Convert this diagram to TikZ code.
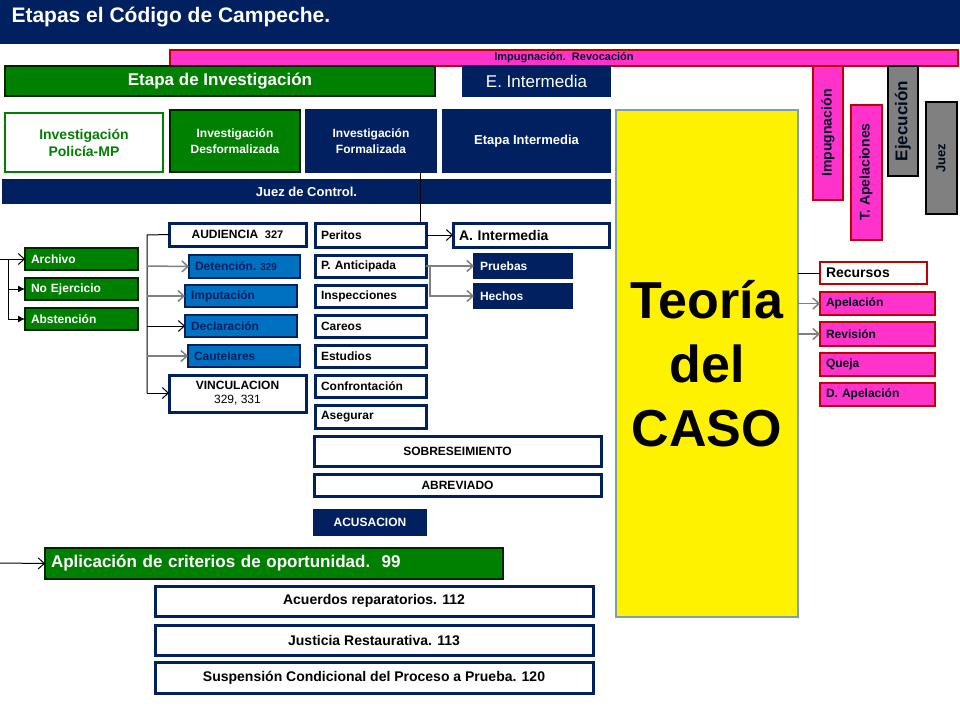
\documentclass[tikz,border=0pt]{standalone}
\usepackage{fontspec}
\setmainfont{Liberation Sans}
\usetikzlibrary{arrows,arrows.meta}

\definecolor{navy}{RGB}{0,32,96}
\definecolor{dgreen}{RGB}{0,128,0}
\definecolor{mblue}{RGB}{0,112,192}
\definecolor{hpink}{RGB}{255,51,204}
\definecolor{dred}{RGB}{192,0,0}

\tikzset{
  base/.style={inner sep=0pt, outer sep=0pt, font=\fontsize{12}{13}\selectfont\bfseries},
  navybox/.style={base, fill=navy, draw=navy, line width=1.5pt, text=white},
  whitebox/.style={base, fill=white, draw=navy, line width=3pt, text=black},
  greenbox/.style={base, fill=dgreen, draw=black!70!dgreen, line width=2pt, text=white},
  bluebox/.style={base, fill=mblue, draw=navy, line width=2.5pt, text=navy},
  pinkbox/.style={base, fill=hpink, draw=dred, line width=2pt, text=black!70!navy},
  graybox/.style={base, fill=gray, draw=black, line width=2pt, text=black},
  link/.style={black, line width=1pt, >={Straight Barb[length=6pt,width=11pt]}},
  glink/.style={gray, line width=1.5pt, >={Straight Barb[length=6pt,width=11pt]}},
  solidtip/.style={-{Latex[length=7pt,width=7pt]}}
}

% box from (x1,y1) to (x2,y2), text centred
\newcommand{\bx}[7]{\node[#6, anchor=north west, minimum width={#4-#2}, minimum height={#5-#3}, align=center] (#1) at (#2,#3) {#7};}
% same, text on the left
\newcommand{\bxl}[7]{\node[#6, anchor=north west, minimum width={#4-#2}, minimum height={#5-#3}, text width={#4-#2-12}, align=left] (#1) at (#2,#3) {#7};}

\begin{document}
\begin{tikzpicture}[x=1pt,y=-1pt]
\useasboundingbox (0,0) rectangle (960,720);

%title
\fill[navy] (0,0) rectangle (960,44);
\node[anchor=west, text=white, font=\fontsize{21}{22}\selectfont\bfseries] (title) at (8,17) {Etapas el Código de Campeche.};

%top bars
\bx{revoc}{170}{50}{958}{66}{pinkbox, font=\fontsize{11}{12}\selectfont\bfseries, text=black!60!navy}{Impugnación.\ \ Revocación}
\bx{einv}{5}{66}{435}{96}{greenbox, font=\fontsize{17}{18}\selectfont\bfseries}{Etapa de Investigación}
\bx{einter}{463}{66}{610}{96}{navybox, font=\fontsize{17}{18}\selectfont}{E. Intermedia}

\bx{polic}{5}{113}{163}{172}{whitebox, draw=dgreen, line width=2pt, text=dgreen, font=\fontsize{14}{17}\selectfont\bfseries}{Investigación\\Policía-MP}
\bx{desf}{170}{110}{300}{172}{greenbox, font=\fontsize{12}{16}\selectfont\bfseries}{Investigación\\Desformalizada}
\bx{form}{306}{110}{436}{172}{navybox, font=\fontsize{12}{16}\selectfont\bfseries}{Investigación\\Formalizada}
\bx{einter2}{443}{110}{610}{172}{navybox, font=\fontsize{13}{16}\selectfont\bfseries}{Etapa Intermedia}
\bx{juezc}{3}{180}{610}{203}{navybox, font=\fontsize{13}{16}\selectfont\bfseries}{Juez de Control.}

%teoria del caso
\bx{teoria}{616}{110}{798}{617}{base, fill=yellow, draw=gray!70!cyan, line width=2pt, font=\fontsize{52}{64}\selectfont\bfseries}{Teoría\\del\\CASO}

%vertical boxes
\node[pinkbox, rotate=90, minimum width=134, minimum height=30, font=\fontsize{14}{16}\selectfont\bfseries, text=black!60!navy] (impug) at (828,133) {Impugnación};
\node[pinkbox, rotate=90, minimum width=135, minimum height=31, font=\fontsize{14}{16}\selectfont\bfseries, text=black!60!navy] (tapel) at (866,172) {T. Apelaciones};
\node[graybox, rotate=90, minimum width=110, minimum height=30, font=\fontsize{17}{18}\selectfont\bfseries, text=black!70!navy] (ejec) at (903,121) {Ejecución};
\node[graybox, rotate=90, minimum width=112, minimum height=31, font=\fontsize{13}{16}\selectfont\bfseries, text=black!70!navy] (juez) at (941,158) {Juez};

%recursos
\bxl{recur}{820}{262}{927}{284}{whitebox, draw=dred, line width=2pt, font=\fontsize{14}{16}\selectfont\bfseries}{Recursos}
\bxl{apel}{820}{292}{935}{315}{pinkbox}{Apelación}
\bxl{revis}{820}{322}{935}{346}{pinkbox}{Revisión}
\bxl{queja}{820}{353}{935}{376}{pinkbox}{Queja}
\bxl{dapel}{820}{383}{935}{406}{pinkbox}{D. Apelación}
\draw[link] (teoria.east |- recur.west) -- (recur.west);
\draw[glink,->] (teoria.east |- apel.west) -- (apel.west);
\draw[glink,->] (teoria.east |- revis.west) -- (revis.west);

%archivo etc
\bxl{archivo}{25}{248}{138}{270}{greenbox}{Archivo}
\bxl{noejer}{25}{278}{138}{300}{greenbox}{No Ejercicio}
\bxl{absten}{25}{308}{138}{330}{greenbox}{Abstención}
\coordinate (lin) at (0,259);
\coordinate (lbr) at (8,319);
\draw[link] (lin) -- (lin -| archivo.west);
\draw[link] (8,259) -- (lbr);
\draw[link,->] (8,259) -- (archivo.west);
\draw[link,solidtip] (8,289) -- (noejer.west);
\draw[link,solidtip] (lbr) -- (absten.west);

%audiencia column
\bx{audien}{169}{223}{306}{246}{whitebox}{AUDIENCIA\ \ {\bfseries\fontsize{11}{12}\selectfont 327}}
\bxl{deten}{189}{255}{300}{278}{bluebox}{Detención.\ {\fontsize{10}{12}\selectfont 329}}
\bxl{imput}{185}{285}{297}{307}{bluebox}{Imputación}
\bxl{declar}{185}{315}{297}{337}{bluebox}{Declaración}
\bxl{cautel}{188}{345}{300}{367}{bluebox}{Cautelares}
\bx{vincul}{169}{375}{306}{412}{whitebox, font=\fontsize{12}{14}\selectfont}{\bfseries VINCULACION\\329,\ 331}
\coordinate (mtop) at (147,235);
\coordinate (mbot) at (147,393);
\draw[link] (audien.west) -- (mtop) -- (mbot);
\draw[glink,->] (147,266) -- (deten.west);
\draw[glink,->] (147,296) -- (imput.west);
\draw[link,->] (147,326) -- (declar.west);
\draw[glink,->] (147,356) -- (cautel.west);
\draw[link,->] (mbot) -- (vincul.west |- mbot);

%prueba column
\bxl{perit}{315}{223}{426}{247}{whitebox}{Peritos}
\bxl{panti}{315}{255}{426}{277}{whitebox}{P. Anticipada}
\bxl{inspec}{315}{285}{426}{307}{whitebox}{Inspecciones}
\bxl{careos}{315}{315}{426}{337}{whitebox}{Careos}
\bxl{estud}{315}{345}{426}{367}{whitebox}{Estudios}
\bxl{confr}{315}{375}{426}{397}{whitebox}{Confrontación}
\bxl{asegu}{315}{405}{426}{428}{whitebox}{Asegurar}
\bx{sobre}{314}{436}{601}{466}{whitebox}{SOBRESEIMIENTO}
\bx{abrev}{314}{474}{601}{496}{whitebox}{ABREVIADO}
\bx{acusa}{314}{510}{426}{535}{navybox}{ACUSACION}

%intermedia
\bxl{aint}{453}{223}{609}{247}{whitebox, font=\fontsize{14}{16}\selectfont\bfseries}{A. Intermedia}
\bxl{prueb}{474}{254}{572}{278}{navybox}{Pruebas}
\bxl{hechos}{474}{284}{572}{308}{navybox}{Hechos}
\draw[link] (420,172) -- (420,223);
\draw[link,->] (perit.east) -- (aint.west);
\coordinate (pj) at (430,266);
\draw[glink,->] (panti.east |- pj) -- (pj) -- (prueb.west |- pj);
\draw[glink,->] (pj) |- (hechos.west);

%salidas alternas
\bxl{aplic}{45}{548}{503}{579}{greenbox, font=\fontsize{17}{18}\selectfont\bfseries}{Aplicación de criterios de oportunidad.\ \ 99}
\coordinate (ain) at (0,563);
\draw[link,->] (ain) -- (aplic.west);
\bx{acuer}{155}{586}{593}{616}{whitebox, font=\fontsize{14}{16}\selectfont\bfseries}{Acuerdos reparatorios. 112}
\bx{justi}{155}{625}{593}{655}{whitebox, font=\fontsize{14}{16}\selectfont\bfseries}{Justicia Restaurativa. 113}
\bx{suspe}{155}{662}{593}{693}{whitebox, font=\fontsize{14}{16}\selectfont\bfseries}{Suspensión Condicional del Proceso a Prueba. 120}

\end{tikzpicture}
\end{document}
